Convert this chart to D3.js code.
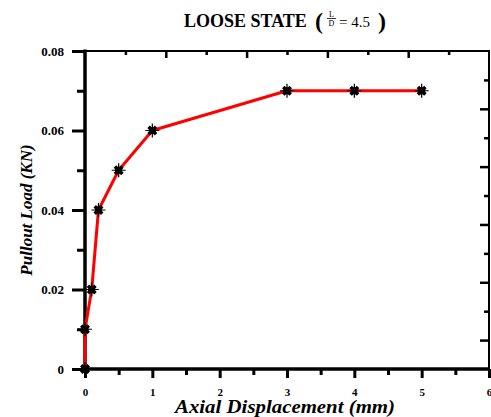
<!DOCTYPE html>
<html>
<head>
<meta charset="utf-8">
<style>
  html, body { margin: 0; padding: 0; background: #fff; }
  text { font-family: "Liberation Serif", "Times New Roman", serif; }
</style>
</head>
<body>
<div id="chart"></div>
<script src="https://d3js.org/d3.v7.min.js"></script>
<script>
    // data
    var displacement = [0, 0, 0.1, 0.2, 0.5, 1, 3, 4, 5];
    var load = [0, 0.01, 0.02, 0.04, 0.05, 0.06, 0.07, 0.07, 0.07];
    var xTicks = [0, 1, 2, 3, 4, 5, 6];
    var xMinor = [0.5, 1.5, 2.5, 3.5, 4.5, 5.5];
    var yTicks = [0, 0.02, 0.04, 0.06, 0.08];
    var yTickLabels = ["0", "0.02", "0.04", "0.06", "0.08"];
    var yMinor = [0.01, 0.03, 0.05, 0.07];

    var width = 491, height = 417;
    var plotL = 85, plotR = 489, plotT = 51, plotB = 369;

    var svg = d3.select("#chart")
        .append("svg")
        .attr("width", width)
        .attr("height", height);

    var x = d3.scaleLinear().domain([0, 6]).range([plotL, plotR]);
    var y = d3.scaleLinear().domain([0, 0.08]).range([plotB, plotT]);

    // mirrored frame scales (the top / right ticks of the source use their own spacing)
    var xTop = d3.scaleLinear().domain([0, 10]).range([plotL, plotR]);
    var yRight = d3.scaleLinear().domain([0, 11]).range([plotB, plotT]);

    function styleAxis(g, fs) {
        g.select(".domain").remove();
        g.selectAll("line").attr("stroke", "#000").attr("stroke-width", 3);
        g.selectAll("text")
            .attr("fill", "#000")
            .style("font-size", (fs || 11) + "px")
            .style("font-weight", "bold");
    }

    // frame
    svg.append("rect")
        .attr("x", plotL).attr("y", plotT)
        .attr("width", plotR - plotL).attr("height", plotB - plotT)
        .attr("fill", "none")
        .attr("stroke", "#000")
        .attr("stroke-width", 2);
    svg.append("line")
        .attr("x1", plotL).attr("x2", plotL).attr("y1", plotT - 1.5).attr("y2", plotB + 1.5)
        .attr("stroke", "#000").attr("stroke-width", 3.5);
    svg.append("line")
        .attr("x1", plotL - 1.5).attr("x2", plotR + 1).attr("y1", plotB).attr("y2", plotB)
        .attr("stroke", "#000").attr("stroke-width", 3.5);

    // left axis
    svg.append("g")
        .attr("transform", "translate(" + plotL + ",0)")
        .call(d3.axisLeft(y).tickValues(yMinor).tickSize(8).tickFormat(""))
        .call(styleAxis);
    svg.append("g")
        .attr("transform", "translate(" + plotL + ",0)")
        .call(d3.axisLeft(y).tickValues(yTicks).tickSize(13).tickPadding(8)
            .tickFormat(function(d, i) { return yTickLabels[i]; }))
        .call(styleAxis, 13);

    // bottom axis
    svg.append("g")
        .attr("transform", "translate(0," + plotB + ")")
        .call(d3.axisBottom(x).tickValues(xMinor).tickSize(6).tickFormat(""))
        .call(styleAxis);
    svg.append("g")
        .attr("transform", "translate(0," + plotB + ")")
        .call(d3.axisBottom(x).tickValues(xTicks).tickSize(9).tickPadding(10).tickFormat(d3.format("d")))
        .call(styleAxis, 11);

    // top mirror ticks (inward)
    var topAxis = svg.append("g")
        .attr("transform", "translate(0," + plotT + ")")
        .call(d3.axisBottom(xTop).tickValues(d3.range(1, 10)).tickFormat(""))
        .call(styleAxis);
    topAxis.selectAll(".tick line")
        .attr("stroke-width", 2.5)
        .attr("y2", function(d) { return d % 2 === 0 ? 7 : 4; });

    // right mirror ticks (inward)
    var rightAxis = svg.append("g")
        .attr("transform", "translate(" + plotR + ",0)")
        .call(d3.axisLeft(yRight).tickValues(d3.range(1, 11)).tickFormat(""))
        .call(styleAxis);
    rightAxis.selectAll(".tick line")
        .attr("stroke-width", 2.5)
        .attr("x2", function(d) { return d % 2 === 1 ? -9 : -5; });

    // curve
    var pts = displacement.map(function(d, i) { return [d, load[i]]; });
    var line = d3.line()
        .x(function(d) { return x(d[0]); })
        .y(function(d) { return y(d[1]); });

    svg.append("path")
        .datum(pts)
        .attr("d", line)
        .attr("fill", "none")
        .attr("stroke", "#ff0000")
        .attr("stroke-width", 3)
        .attr("stroke-linejoin", "round");

    // star markers: thick x plus thin +
    var thickX = {
        draw: function(ctx, size) {
            var r = Math.sqrt(size) / 2;
            ctx.moveTo(-r, -r); ctx.lineTo(r, r);
            ctx.moveTo(-r, r); ctx.lineTo(r, -r);
        }
    };
    var thinPlus = {
        draw: function(ctx, size) {
            var r = Math.sqrt(size) / 2;
            ctx.moveTo(-r, 0); ctx.lineTo(r, 0);
            ctx.moveTo(0, -r); ctx.lineTo(0, r);
        }
    };

    var marks = svg.selectAll("g.mark")
        .data(pts)
        .enter()
        .append("g")
        .attr("class", "mark")
        .attr("transform", function(d) { return "translate(" + x(d[0]) + "," + y(d[1]) + ")"; });
    marks.append("path")
        .attr("d", d3.symbol().type(thickX).size(56))
        .attr("stroke", "#000").attr("stroke-width", 3.5).attr("fill", "none");
    marks.append("path")
        .attr("d", d3.symbol().type(thinPlus).size(196))
        .attr("stroke", "#000").attr("stroke-width", 1.2).attr("fill", "none");
    marks.append("rect")
        .attr("x", -3.5).attr("y", -3.5).attr("width", 7).attr("height", 7)
        .attr("fill", "#000");

    // axis titles
    svg.append("text")
        .attr("x", 175)
        .attr("y", 413)
        .attr("textLength", 220)
        .attr("lengthAdjust", "spacingAndGlyphs")
        .style("font-size", "18px")
        .style("font-weight", "bold")
        .style("font-style", "italic")
        .text("Axial Displacement (mm)");

    svg.append("text")
        .attr("transform", "translate(32," + ((plotT + plotB) / 2) + ") rotate(-90)")
        .attr("text-anchor", "middle")
        .style("font-size", "17px")
        .style("font-weight", "bold")
        .style("font-style", "italic")
        .text("Pullout Load (KN)");

    // title with L/D fraction
    var title = svg.append("g");
    title.append("text")
        .attr("x", 184).attr("y", 27)
        .style("font-size", "18px")
        .style("font-weight", "bold")
        .text("LOOSE STATE");
    title.append("text")
        .attr("x", 315).attr("y", 29)
        .style("font-size", "24px")
        .style("font-weight", "bold")
        .text("(");
    title.append("text")
        .attr("x", 331.5).attr("y", 17)
        .attr("text-anchor", "middle")
        .style("font-size", "8px")
        .text("L");
    title.append("line")
        .attr("x1", 327).attr("x2", 336).attr("y1", 18.5).attr("y2", 18.5)
        .attr("stroke", "#000").attr("stroke-width", 0.8);
    title.append("text")
        .attr("x", 331.5).attr("y", 26)
        .attr("text-anchor", "middle")
        .style("font-size", "8px")
        .text("D");
    title.append("text")
        .attr("x", 339).attr("y", 27)
        .style("font-size", "15px")
        .text("= 4.5");
    title.append("text")
        .attr("x", 378).attr("y", 29)
        .style("font-size", "24px")
        .style("font-weight", "bold")
        .text(")");
</script>
</body>
</html>
